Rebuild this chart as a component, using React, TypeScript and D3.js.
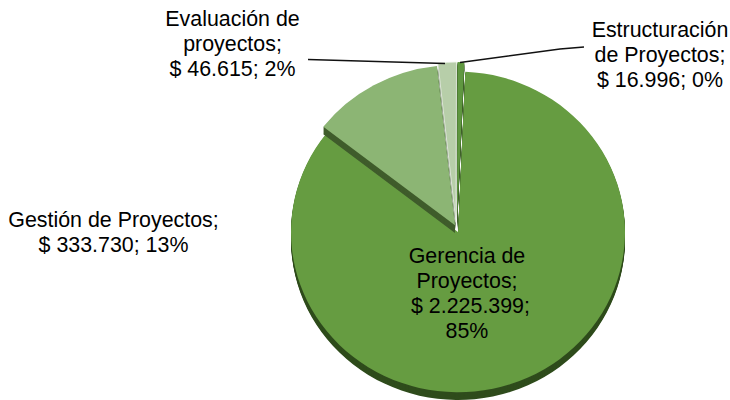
import * as d3 from 'd3';
import React from 'react';

const names = ['Gerencia de Proyectos', 'Gestión de Proyectos', 'Evaluación de proyectos', 'Estructuración de Proyectos'];
const amounts = [2225399, 333730, 46615, 16996];
const faceColors = ['#669c41', '#8cb574', '#b7cea9', '#5f9740'];
const sideColors = ['#2f4c1c', '#3f5c2b', '#7f8f76', '#33521f'];
const offsets = [[0, 0], [-3, -7], [-2, -10], [-1, -10]];

// label lines as they wrap in the picture
const labelLines = [
    ['Gerencia de', 'Proyectos;', '$ 2.225.399;', '85%'],
    ['Gestión de Proyectos;', '$ 333.730; 13%'],
    ['Evaluación de', 'proyectos;', '$ 46.615; 2%'],
    ['Estructuración', 'de Proyectos;', '$ 16.996; 0%'],
];
const labelCenters = [[467, 263], [113.5, 227], [232.5, 26], [660, 37]];
const leaders = [
    null,
    null,
    [[308, 59.5], [445, 63.5]],
    [[584, 47], [560, 49], [460, 62.5]],
];

const startDeg = 2.5;
const depth = 8;
const lineGap = 25;

export default function App() {
    const pie = d3.pie<number>()
        .sort(null)
        .startAngle((startDeg * Math.PI) / 180)
        .endAngle(((startDeg + 360) * Math.PI) / 180);
    const arcs = pie(amounts);
    const arc = d3.arc<d3.PieArcDatum<number>>().innerRadius(0).outerRadius(167);
    const layers = d3.range(depth, 0, -1);

    return (
        <svg width={730} height={400} style={{ position: 'absolute', left: 0, top: 0 }}
             fontFamily="'Liberation Sans', Arial, sans-serif" fontSize={21.4} fill="#000">
            <g transform="translate(458,232) scale(1,0.96)">
                {arcs.map((d, i) => (
                    <g key={names[i]} transform={`translate(${offsets[i][0]},${offsets[i][1]})`}>
                        {layers.map(k => (
                            <path key={k} d={arc(d) ?? ''} transform={`translate(0,${k})`} fill={sideColors[i]} />
                        ))}
                        <path d={arc(d) ?? ''} fill={faceColors[i]}
                              stroke={i === 2 ? '#eef3ea' : 'none'} strokeWidth={0.8} />
                    </g>
                ))}
            </g>
            {leaders.map((l, i) => l && (
                <path key={i} d={d3.line()(l as [number, number][]) ?? ''} fill="none" stroke="#111" strokeWidth={1.3} />
            ))}
            {labelLines.map((lines, i) => (
                <text key={names[i]} textAnchor="middle">
                    {lines.map((t, j) => (
                        <tspan key={j} x={labelCenters[i][0] + (i === 0 && j === 2 ? 3.5 : 0)} y={labelCenters[i][1] + j * lineGap}>{t}</tspan>
                    ))}
                </text>
            ))}
        </svg>
    );
}
